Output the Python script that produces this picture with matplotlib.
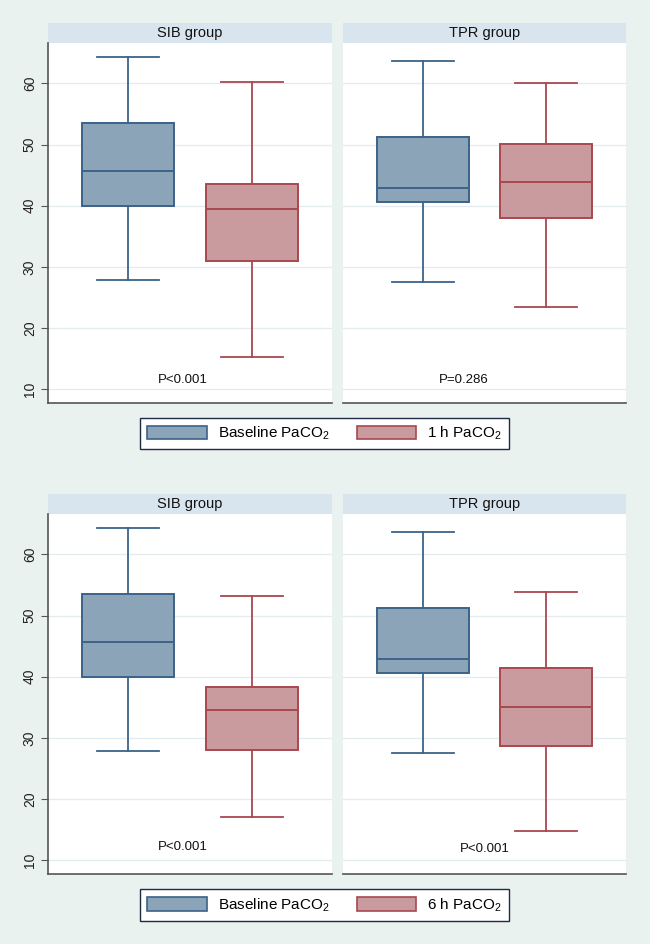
import matplotlib
matplotlib.use("Agg")
import matplotlib.pyplot as plt
from matplotlib.patches import Patch, Rectangle

plt.rcParams['font.family'] = ['Liberation Sans', 'DejaVu Sans']
plt.rcParams['mathtext.fontset'] = 'custom'
plt.rcParams['mathtext.rm'] = 'Liberation Sans'

# summary stats: [whislo, q1, med, q3, whishi]
sib_base = [27.9, 40.0, 45.7, 53.6, 64.3]
sib_1h = [15.2, 31.0, 39.4, 43.5, 60.2]
sib_6h = [17.0, 28.0, 34.6, 38.4, 53.2]
tpr_base = [27.5, 40.6, 42.9, 51.3, 63.6]
tpr_1h = [23.4, 38.0, 43.8, 50.1, 60.1]
tpr_6h = [14.8, 28.6, 35.1, 41.5, 53.9]

groups = ['SIB group', 'TPR group']
pvals_1h = ['P<0.001', 'P=0.286']
pvals_6h = ['P<0.001', 'P<0.001']
p_x = [1.44, 1.33]
legend_top = [r'Baseline PaCO$_\mathregular{2}$', r'1 h PaCO$_\mathregular{2}$']
legend_bot = [r'Baseline PaCO$_\mathregular{2}$', r'6 h PaCO$_\mathregular{2}$']
yticks = [10, 20, 30, 40, 50, 60]

bg = '#EAF2EF'
head = '#D9E5EE'
blue_f, blue_e = '#8CA4B8', '#3B6388'
red_f, red_e = '#C99A9E', '#A84850'

W, H = 650, 944
fig = plt.figure(figsize=(6.5, 9.44), dpi=100, facecolor=bg)


def stats(v):
    return dict(whislo=v[0], q1=v[1], med=v[2], q3=v[3], whishi=v[4], fliers=[])


def panel(x0, x1, ytop, ybot, base, after, title, ptext, px, py, left):
    ax = fig.add_axes([x0 / W, 1 - ybot / H, (x1 - x0) / W, (ybot - ytop) / H])
    ax.set_facecolor('white')
    bx = ax.bxp([stats(base), stats(after)], positions=[1, 2], widths=0.742,
                patch_artist=True, showfliers=False, capwidths=0.5)
    for i, (fc, ec) in enumerate([(blue_f, blue_e), (red_f, red_e)]):
        bx['boxes'][i].set(facecolor=fc, edgecolor=ec, linewidth=1.4)
        bx['medians'][i].set(color=ec, linewidth=1.4)
        for ln in bx['whiskers'][2 * i:2 * i + 2] + bx['caps'][2 * i:2 * i + 2]:
            ln.set(color=ec, linewidth=1.3)
    ax.set_xlim(0.355, 2.645)
    ax.set_ylim(7.75, 66.6)
    ax.set_yticks(yticks)
    ax.grid(axis='y', color='#E4ECF0', linewidth=1)
    ax.set_axisbelow(True)
    ax.set_xticks([])
    for s in ['top', 'right']:
        ax.spines[s].set_visible(False)
    ax.spines['bottom'].set_color('#555555')
    ax.spines['bottom'].set_linewidth(1.2)
    if left:
        ax.spines['left'].set_color('#555555')
        ax.spines['left'].set_linewidth(1.2)
        ax.tick_params(axis='y', length=5, color='#555555', labelsize=10,
                       labelrotation=90, labelcolor='#222222', pad=3)
        for t in ax.get_yticklabels():
            t.set_va('center')
    else:
        ax.spines['left'].set_visible(False)
        ax.tick_params(axis='y', length=0, labelleft=False)
    hh = 20 / (ybot - ytop)
    ax.add_patch(Rectangle((0, 1), 1, hh, transform=ax.transAxes, facecolor=head,
                           edgecolor='none', clip_on=False))
    ax.text(0.5, 1 + hh / 2, title, transform=ax.transAxes, ha='center', va='center',
            fontsize=10.5, color='#111111')
    ax.text(px, py, ptext, ha='center', va='center', fontsize=9.5, color='#111111')
    return ax


panel(48, 332, 43, 403, sib_base, sib_1h, groups[0], pvals_1h[0], p_x[0], 11.5, True)
panel(343, 626, 43, 403, tpr_base, tpr_1h, groups[1], pvals_1h[1], p_x[1], 11.5, False)
panel(48, 332, 514, 874, sib_base, sib_6h, groups[0], pvals_6h[0], p_x[0], 12.1, True)
panel(343, 626, 514, 874, tpr_base, tpr_6h, groups[1], pvals_6h[1], 1.5, 11.8, False)


def legend(labels, yc):
    handles = [Patch(facecolor=blue_f, edgecolor=blue_e, linewidth=1.2),
               Patch(facecolor=red_f, edgecolor=red_e, linewidth=1.2)]
    lg = fig.legend(handles, labels, ncol=2, loc='center',
                    bbox_to_anchor=(324.5 / W, 1 - yc / H), fontsize=11,
                    handlelength=3.9, handleheight=1.0, handletextpad=0.7,
                    columnspacing=1.8, borderpad=0.45, fancybox=False,
                    framealpha=1, edgecolor='#1F2A44')
    lg.get_frame().set_linewidth(1.0)


legend(legend_top, 433.5)
legend(legend_bot, 905)

fig.savefig('out.png', dpi=100, facecolor=bg)
